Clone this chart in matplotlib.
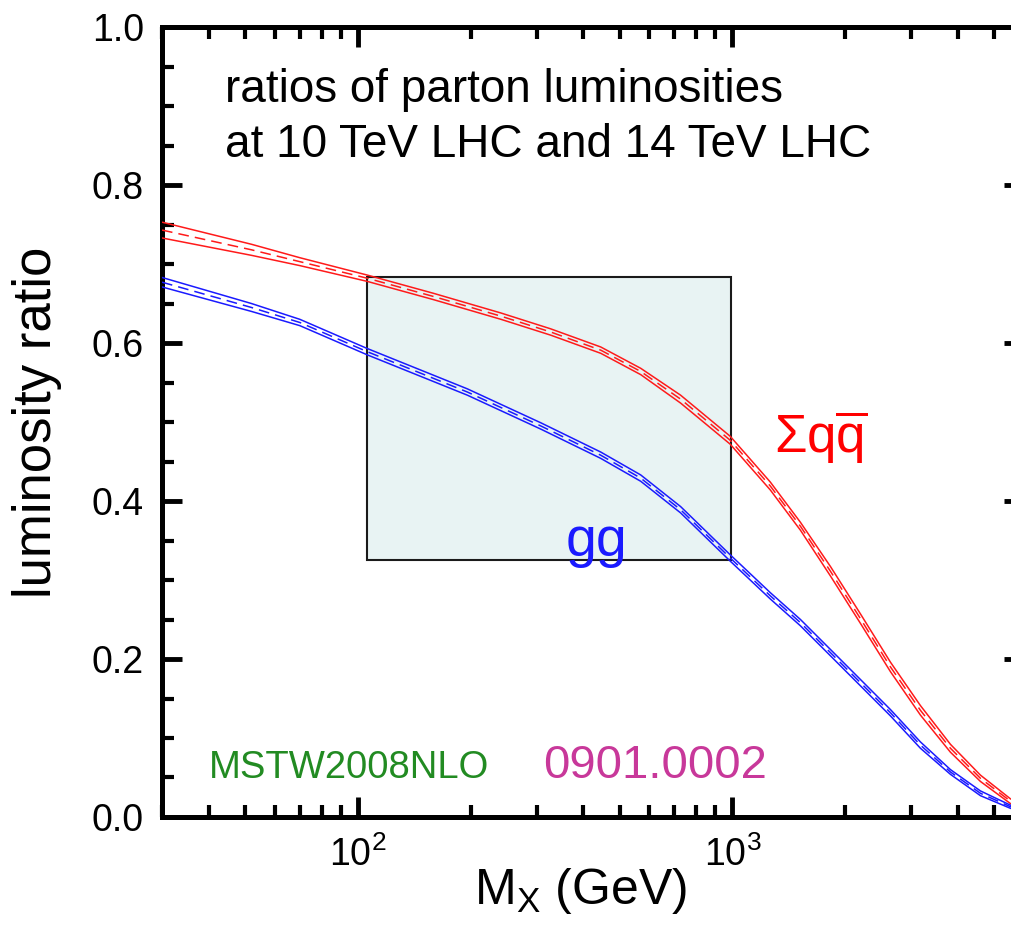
import matplotlib
matplotlib.use("Agg")
import numpy as np
import matplotlib.pyplot as plt
from matplotlib.patches import Rectangle
from matplotlib.ticker import MultipleLocator, FormatStrFormatter, NullFormatter

plt.rcParams['font.family'] = ['Liberation Sans', 'DejaVu Sans']
plt.rcParams['mathtext.fontset'] = 'custom'
plt.rcParams['mathtext.rm'] = 'Liberation Sans'
plt.rcParams['mathtext.it'] = 'Liberation Sans'
plt.rcParams['mathtext.bf'] = 'Liberation Sans:bold'

# sum q qbar luminosity ratio (10 TeV / 14 TeV): M_X (GeV), central, half band width
mx_qq = [30, 52, 70, 106, 159, 241, 327, 445, 569, 727, 986, 1262, 1519,
         1827, 2197, 2641, 3176, 3819, 4592, 5522, 6000]
qq_ratio = [0.743, 0.718, 0.703, 0.682, 0.659, 0.634, 0.614, 0.591, 0.564, 0.529,
            0.477, 0.419, 0.368, 0.311, 0.251, 0.190, 0.135, 0.087, 0.049, 0.020,
            0.011]
qq_err = [0.010, 0.007, 0.005, 0.004, 0.004, 0.004, 0.004, 0.004, 0.004, 0.005,
          0.005, 0.005, 0.005, 0.006, 0.006, 0.006, 0.006, 0.005, 0.004, 0.003,
          0.003]

# gg luminosity ratio
mx_gg = [30, 52, 70, 106, 196, 308, 445, 569, 727, 986, 1262, 1519, 1827,
         2197, 2641, 3176, 3819, 4592, 5522, 6000]
gg_ratio = [0.677, 0.645, 0.626, 0.589, 0.538, 0.495, 0.458, 0.429, 0.389, 0.328,
            0.280, 0.246, 0.208, 0.170, 0.132, 0.091, 0.057, 0.030, 0.013, 0.009]
gg_err = [0.006, 0.005, 0.004, 0.004, 0.004, 0.004, 0.004, 0.004, 0.004, 0.004,
          0.004, 0.004, 0.004, 0.004, 0.004, 0.004, 0.003, 0.003, 0.002, 0.002]

# shaded region
box_mx = [106, 990]
box_ratio = [0.325, 0.684]

fig = plt.figure(figsize=(10.11, 9.42), dpi=100)
ax = fig.add_axes([0.1602, 0.1327, 0.8526, 0.8386])

ax.add_patch(Rectangle((box_mx[0], box_ratio[0]), box_mx[1] - box_mx[0],
                       box_ratio[1] - box_ratio[0], facecolor='#e8f3f3',
                       edgecolor='#1a1a1a', lw=1.5, zorder=1))


def band(x, c, e, color):
    x = np.asarray(x)
    c = np.asarray(c)
    e = np.asarray(e)
    ax.plot(x, c + e, color=color, lw=1.1, zorder=3)
    ax.plot(x, c - e, color=color, lw=1.1, zorder=3)
    ax.plot(x, c, color=color, lw=1.1, dashes=(7, 4), zorder=3)


band(mx_qq, qq_ratio, qq_err, '#ff1a1a')
band(mx_gg, gg_ratio, gg_err, '#1a1aff')

ax.set_xscale('log')
ax.set_xlim(30, 6000)
ax.set_ylim(0, 1.0)
ax.yaxis.set_major_locator(MultipleLocator(0.2))
ax.yaxis.set_minor_locator(MultipleLocator(0.05))
ax.yaxis.set_major_formatter(FormatStrFormatter('%.1f'))
ax.xaxis.set_minor_formatter(NullFormatter())

ax.tick_params(which='both', direction='in', top=True, right=True,
               labelsize=27, colors='black')
ax.tick_params(which='major', length=14.5, width=3.5, pad=13)
ax.tick_params(which='minor', length=8.5, width=3)
ax.tick_params(axis='x', which='major', pad=14)
for s in ax.spines.values():
    s.set_linewidth(3.6)

ax.set_xlabel(r'M$_\mathrm{X}$ (GeV)', fontsize=36)
ax.xaxis.set_label_coords(0.485, -0.062)
ax.set_ylabel('luminosity ratio', fontsize=38, va='center')
ax.yaxis.set_label_coords(-0.145, 0.5)

ax.text(0.073, 0.905, 'ratios of parton luminosities', transform=ax.transAxes,
        fontsize=33, va='baseline', ha='left')
ax.text(0.073, 0.835, 'at 10 TeV LHC and 14 TeV LHC', transform=ax.transAxes,
        fontsize=33, va='baseline', ha='left')

ax.text(1290, 0.461, r'$\Sigma\mathrm{q}\overline{\mathrm{q}}$', color='#ff0000',
        fontsize=38, va='baseline', ha='left')
ax.text(358, 0.331, 'gg', color='#1a1aff', fontsize=40, va='baseline', ha='left')
ax.text(40, 0.049, 'MSTW2008NLO', color='#228b22', fontsize=27.5,
        va='baseline', ha='left')
ax.text(313, 0.049, '0901.0002', color='#c8389a', fontsize=34,
        va='baseline', ha='left')

fig.savefig('out.png', dpi=100)
